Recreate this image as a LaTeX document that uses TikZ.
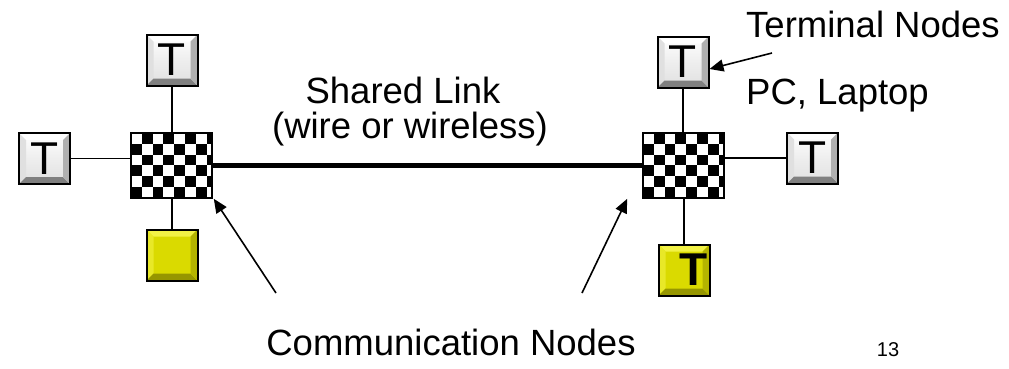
\documentclass[tikz,border=0pt]{standalone}
\usepackage{fontspec}
\setmainfont{Liberation Sans}
\setsansfont{Liberation Sans}
\usetikzlibrary{arrows.meta}

\definecolor{silverface}{RGB}{238,238,238}
\definecolor{silverdark}{RGB}{128,128,128}
\definecolor{silvermid}{RGB}{176,176,176}
\definecolor{silverlight}{RGB}{224,224,224}
\definecolor{yelface}{RGB}{218,218,0}
\definecolor{yeltop}{RGB}{242,242,70}
\definecolor{yelleft}{RGB}{232,232,40}
\definecolor{yelbottom}{RGB}{150,150,0}
\definecolor{yelright}{RGB}{180,180,0}

% a raised, bevelled push-button face: #1 top, #2 left, #3 bottom, #4 right
\newcommand{\bevelfaces}[4]{%
  \fill[#1] (path picture bounding box.north west) -- (path picture bounding box.north east)
    -- ([shift={(-7pt,-7pt)}]path picture bounding box.north east)
    -- ([shift={(7pt,-7pt)}]path picture bounding box.north west) -- cycle;
  \fill[#2] (path picture bounding box.north west) -- (path picture bounding box.south west)
    -- ([shift={(7pt,7pt)}]path picture bounding box.south west)
    -- ([shift={(7pt,-7pt)}]path picture bounding box.north west) -- cycle;
  \fill[#3] (path picture bounding box.south west) -- (path picture bounding box.south east)
    -- ([shift={(-7pt,7pt)}]path picture bounding box.south east)
    -- ([shift={(7pt,7pt)}]path picture bounding box.south west) -- cycle;
  \fill[#4] (path picture bounding box.north east) -- (path picture bounding box.south east)
    -- ([shift={(-7pt,7pt)}]path picture bounding box.south east)
    -- ([shift={(-7pt,-7pt)}]path picture bounding box.north east) -- cycle;
}

% checkerboard cells, 10.8pt square, starting white in the top-left corner
\newcommand{\checkercells}{%
  \foreach \i in {0,...,7}{%
    \foreach \j in {0,...,5}{%
      \pgfmathtruncatemacro\cellpar{mod(\i+\j,2)}%
      \ifnum\cellpar=1
        \fill[black]
          ([shift={(\i*10.8pt,-\j*10.8pt)}]path picture bounding box.north west)
          rectangle ++(10.8pt,-10.8pt);
      \fi
    }%
  }%
}

\tikzset{
  termbox/.style={rectangle, draw=black, line width=2pt, inner sep=0pt,
    minimum width=51pt, minimum height=51pt,
    top color=white, bottom color=silverlight, middle color=silverface,
    path picture={\bevelfaces{white}{silverlight}{silverdark}{silvermid}},
    font=\fontsize{46}{46}\selectfont},
  yelbox/.style={rectangle, draw=black, line width=2pt, inner sep=0pt,
    minimum width=51pt, minimum height=51pt, fill=yelface,
    path picture={\bevelfaces{yeltop}{yelleft}{yelbottom}{yelright}}},
  commnode/.style={rectangle, draw=black, line width=1.6pt, inner sep=0pt,
    minimum width=81pt, minimum height=65pt, fill=white,
    path picture={\checkercells}},
  thinlink/.style={line width=1.8pt},
  sharedlink/.style={line width=5pt},
  callout/.style={line width=1.6pt, -{Triangle[length=14pt,width=12pt]}},
  caption/.style={font=\fontsize{36.5}{40}\selectfont, inner sep=0pt},
}

\begin{document}
\begin{tikzpicture}[x=1pt,y=-1pt]
\useasboundingbox (0,0) rectangle (1009,368);

% communication nodes
\node[commnode] (cl) at (171.5,165.5) {};
\node[commnode] (cr) at (683.5,165.5) {};

% terminal nodes, left group
\node[termbox] (tlt) at (172,60) {T};
\node[termbox] (tll) at (44.5,158.5) {T};
\node[yelbox]  (tlb) at (172,255) {};

% terminal nodes, right group
\node[termbox] (trt) at (683,62) {T};
\node[termbox] (trr) at (812.5,158) {T};
\node[yelbox]  (trb) at (684,270) {};
\node[font=\fontsize{46}{46}\selectfont\bfseries, inner sep=0pt] (trbT) at ([xshift=10pt]trb.center) {T};

% access links
\draw[thinlink] (tlt.south) -- (tlt.south |- cl.north);
\draw[thinlink] (tll.east) -- (tll.east -| cl.west);
\draw[thinlink] (tlb.north) -- (tlb.north |- cl.south);
\draw[thinlink] (trt.south) -- (trt.south |- cr.north);
\draw[thinlink] (trr.west) -- (trr.west -| cr.east);
\draw[thinlink] (trb.north) -- (trb.north |- cr.south);

% the shared medium
\draw[sharedlink] (cl.east) -- (cr.west);

% labels
\node[caption, anchor=base] (sl) at (403,103) {Shared Link};
\node[caption, anchor=base] (wl) at (410,138) {(wire or wireless)};
\node[caption, anchor=base west] (tn) at (746,37) {Terminal Nodes};
\node[caption, anchor=base west] (pc) at (746,104) {PC, Laptop};
\node[caption, anchor=base] (cn) at (451,355) {Communication Nodes};
\node[font=\fontsize{20}{24}\selectfont, anchor=base] (pg) at (888,356) {13};

% callout arrows
\coordinate (tnTail) at (772,53);
\draw[callout] (tnTail) -- (trt.east |- 0,69);
\coordinate (cnTailL) at (276,293);
\coordinate (cnTailR) at (582,293);
\draw[callout] (cnTailL) -- ([shift={(1pt,0pt)}]cl.south east);
\draw[callout] (cnTailR) -- ([shift={(-15pt,0pt)}]cr.south west);
\end{tikzpicture}
\end{document}
